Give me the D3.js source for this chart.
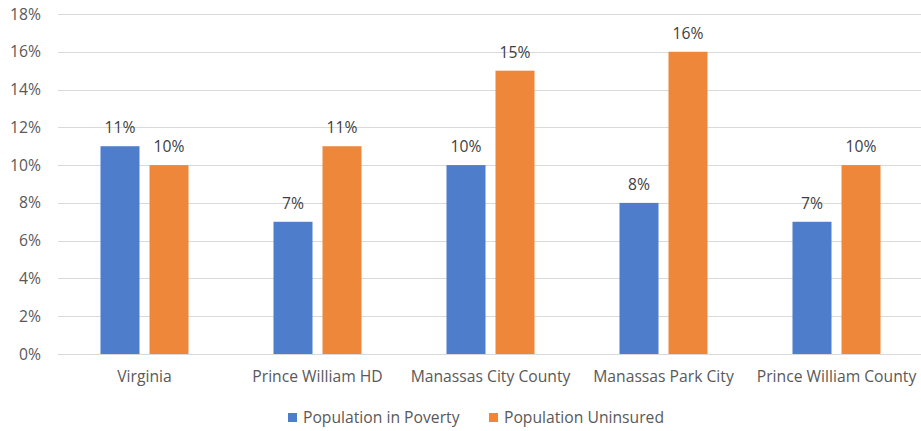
<!DOCTYPE html>
<html>
<head>
	<title>Poverty and Uninsured</title>
	<meta charset='utf-8'>
	<style>
		body {
			margin: 0;
			background: #fff;
		}

		text {
			font-family: 'Open Sans', 'Liberation Sans', Arial, sans-serif;
			fill: #595959;
		}

		.grid line {
			stroke: #d9d9d9;
			stroke-width: 1px;
		}

		.axis path,
		.axis line {
			display: none;
		}

		.label {
			fill: #404040;
		}
	</style>
</head>
<body>

<script src='https://d3js.org/d3.v7.min.js'></script>
<script>
	'use strict';
	const categories = ['Virginia', 'Prince William HD', 'Manassas City County', 'Manassas Park City', 'Prince William County'];
	const seriesNames = ['Population in Poverty', 'Population Uninsured'];
	const poverty = [11, 7, 10, 8, 7];
	const uninsured = [10, 11, 15, 16, 10];
	const yTicks = [0, 2, 4, 6, 8, 10, 12, 14, 16, 18];
	const colors = ['#4e7ecb', '#ef873b'];

	const W = 921, H = 431;
	const margin = {top: 14, right: 923, bottom: 354, left: 58};
	const fontSize = '15.7px';

	const data = categories.map(function(c, i) {
		return {cat: c, values: [
			{key: seriesNames[0], v: poverty[i]},
			{key: seriesNames[1], v: uninsured[i]}
		]};
	});

	const x0 = d3.scaleBand().domain(categories).range([margin.left, margin.right]).padding(0);
	const x1 = d3.scaleBand().domain(seriesNames).range([0, x0.bandwidth()])
		.paddingInner(0.204).paddingOuter(0.867);
	const y = d3.scaleLinear().domain([0, 18]).range([margin.bottom, margin.top]);
	const color = d3.scaleOrdinal().domain(seriesNames).range(colors);

	const svg = d3.select('body').append('svg')
		.attr('width', W)
		.attr('height', H);

	// сетка
	svg.append('g')
		.attr('class', 'grid')
		.selectAll('line')
		.data(yTicks)
		.enter()
		.append('line')
		.attr('x1', margin.left)
		.attr('x2', W)
		.attr('y1', function(d) {return Math.round(y(d)) + 0.5;})
		.attr('y2', function(d) {return Math.round(y(d)) + 0.5;});

	const yAxis = svg.append('g')
		.attr('class', 'axis')
		.attr('transform', 'translate(' + (margin.left - 17) + ',0)')
		.call(d3.axisLeft(y).tickValues(yTicks).tickSize(0).tickPadding(0)
			.tickFormat(function(d) {return d + '%';}));
	yAxis.selectAll('text').style('font-size', fontSize);

	const xAxis = svg.append('g')
		.attr('class', 'axis')
		.attr('transform', 'translate(0,' + margin.bottom + ')')
		.call(d3.axisBottom(x0).tickSize(0).tickPadding(17));
	xAxis.selectAll('text').style('font-size', fontSize);

	const groups = svg.selectAll('.group')
		.data(data)
		.enter()
		.append('g')
		.attr('class', 'group')
		.attr('transform', function(d) {return 'translate(' + x0(d.cat) + ',0)';});

	groups.selectAll('rect')
		.data(function(d) {return d.values;})
		.enter()
		.append('rect')
		.attr('x', function(d) {return x1(d.key);})
		.attr('width', x1.bandwidth())
		.attr('y', function(d) {return y(d.v);})
		.attr('height', function(d) {return margin.bottom - y(d.v);})
		.attr('fill', function(d) {return color(d.key);});

	groups.selectAll('.label')
		.data(function(d) {return d.values;})
		.enter()
		.append('text')
		.attr('class', 'label')
		.attr('x', function(d) {return x1(d.key) + x1.bandwidth() / 2;})
		.attr('y', function(d) {return y(d.v) - 13;})
		.attr('text-anchor', 'middle')
		.style('font-size', fontSize)
		.text(function(d) {return d.v + '%';});

	// легенда
	const legendX = [288, 489];
	const legend = svg.selectAll('.legend')
		.data(seriesNames)
		.enter()
		.append('g')
		.attr('class', 'legend')
		.attr('transform', function(d, i) {return 'translate(' + legendX[i] + ',413)';});

	legend.append('rect')
		.attr('width', 9)
		.attr('height', 9)
		.attr('fill', function(d) {return color(d);});

	legend.append('text')
		.attr('x', 15)
		.attr('y', 9.5)
		.style('font-size', fontSize)
		.text(function(d) {return d;});
</script>
</body>
</html>
